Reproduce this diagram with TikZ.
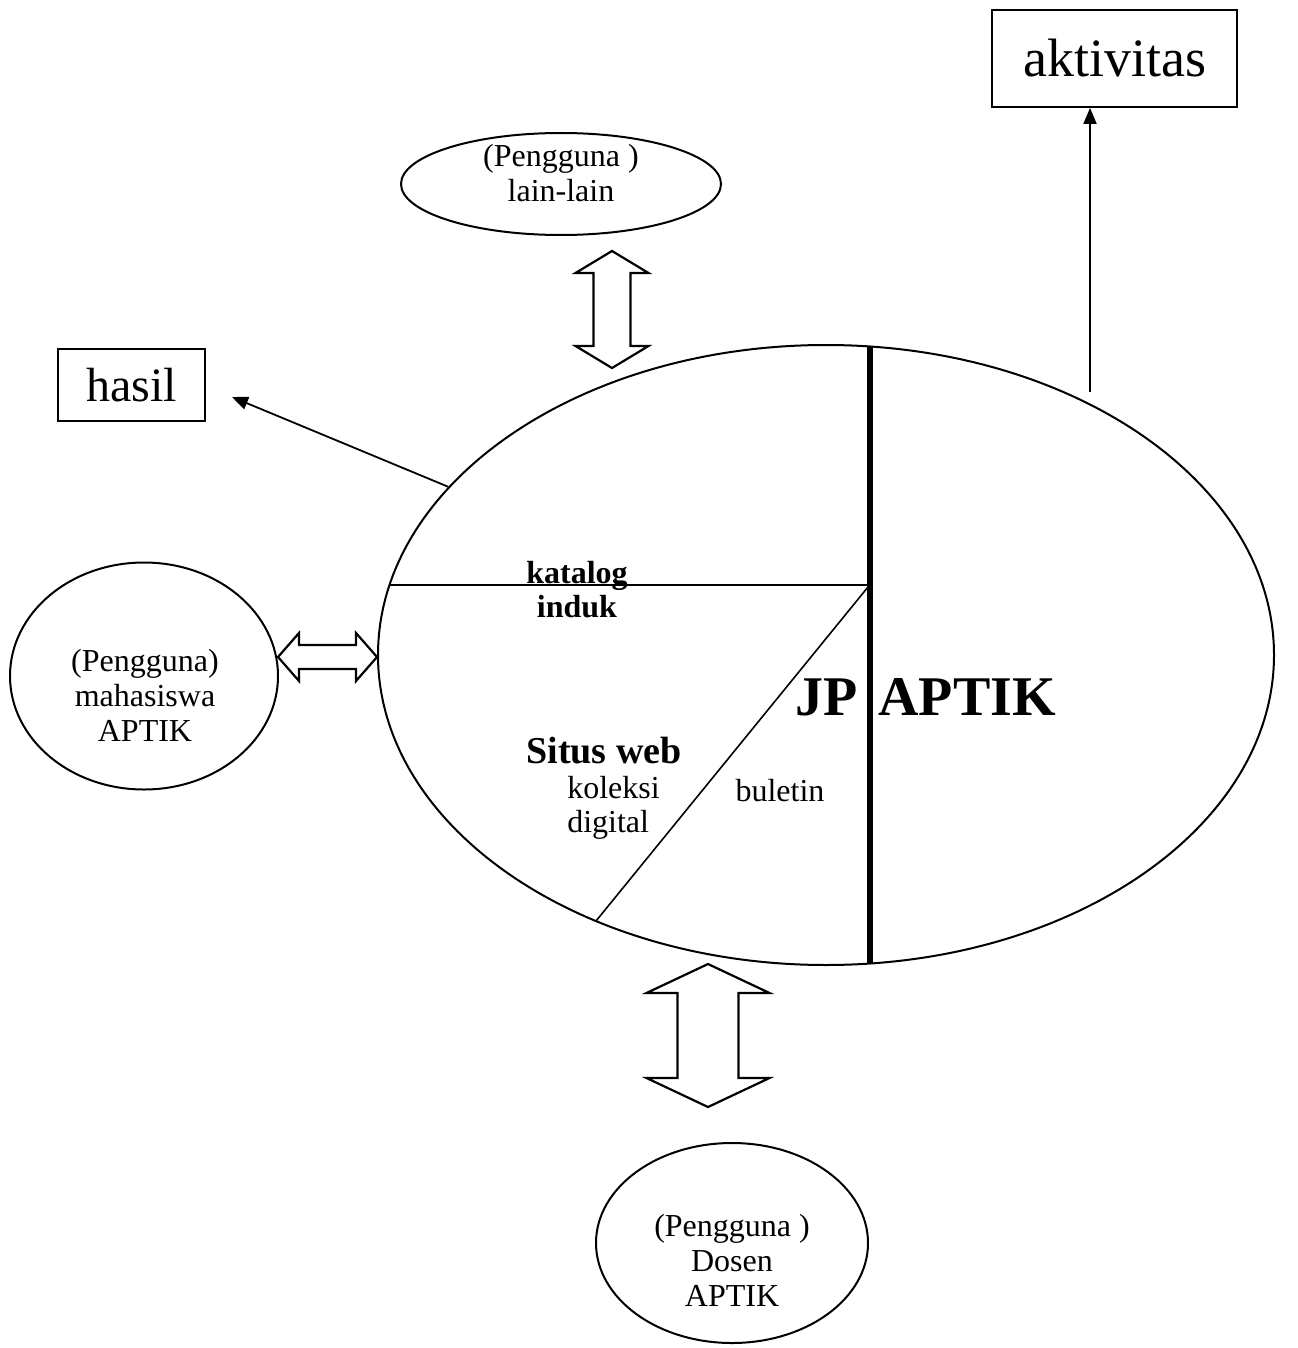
\documentclass[tikz,border=0pt]{standalone}
\usepackage{fontspec}
\setmainfont{Liberation Serif}
\usetikzlibrary{shapes.geometric,arrows.meta}
\newcommand\fs[2]{\fontsize{#1}{#2}\selectfont}
\newcommand\dblarrow[7]{%
 \begin{scope}[shift={(#1,#2)},rotate=#3]
 \draw[line width=1.1pt,line join=miter] (0,-#4) -- (#5,{-#4+#7}) -- (#6,{-#4+#7}) -- (#6,{#4-#7})
  -- (#5,{#4-#7}) -- (0,#4) -- (-#5,{#4-#7}) -- (-#6,{#4-#7}) -- (-#6,{-#4+#7}) -- (-#5,{-#4+#7}) -- cycle;
 \end{scope}}

\begin{document}
\begin{tikzpicture}[x=0.5pt,y=-0.5pt,
 oval/.style={draw,ellipse,line width=1pt,inner sep=0pt},
 boks/.style={draw,line width=0.9pt,inner sep=0pt},
 arr/.style={line width=0.9pt,-{Triangle[length=8pt,width=6.5pt]}},
 teks/.style={align=center,font=\fs{16}{17.5}}]
\useasboundingbox (0,0) rectangle (1297,1348);
\node[oval,minimum width=448pt,minimum height=310pt] (jp) at (826,655) {};
\foreach\pos/\w/\h/\nm in {(561,184)/160/51/lain,(144,676)/134/113.5/mhs,(732,1243)/136/100/dsn}
 \node[oval,minimum width=\w pt,minimum height=\h pt] (\nm) at \pos {};
\node[boks,minimum width=73.5pt,minimum height=36pt,font=\fs{24}{28}] (hasil) at (131.5,385) {hasil};
\node[boks,minimum width=122.5pt,minimum height=48.5pt,font=\fs{27}{30}] (aktiv) at (1114.5,58.5) {aktivitas};
\coordinate (h1) at (232,397);
\coordinate (a1) at (1090,392);
\draw[arr] (jp.156) -- (h1);
\draw[arr] (a1) -- (a1 |- aktiv.south);
\draw[line width=2.6pt] (870,346.5) -- (870,963.5);
\draw[line width=0.8pt] (389.6,585) -- (868,585);
\draw[line width=0.8pt] (868,587) -- (596,921);
\foreach\cx/\cy/\r/\l/\hw/\sw/\hl in {612/309.5/0/58.5/36.5/18.5/22,708/1035.5/0/71.5/61.5/30.5/29,327.5/657/90/49.5/24/12/21}
 {\dblarrow{\cx}{\cy}{\r}{\l}{\hw}{\sw}{\hl}}
\node[teks] (tlain) at (561,173) {(Pengguna )\\lain-lain};
\node[teks] (tmhs) at (145,695) {(Pengguna)\\mahasiswa\\APTIK};
\node[teks] (tdsn) at (732,1260) {(Pengguna )\\Dosen\\APTIK};
\node[align=center,font=\bfseries\fs{16}{17}] (katalog) at (577,590) {katalog\\induk};
\node[font=\bfseries\fs{19}{20}] (situs) at (604,751) {Situs web};
\node[align=left,font=\fs{16}{17}] (koleksi) at (613.5,808) {koleksi\\digital};
\node[font=\fs{16}{17}] (buletin) at (780,791) {buletin};
\node[font=\bfseries\fs{28}{30},anchor=base east,inner sep=0pt] (jpt) at (858,715) {JP};
\node[font=\bfseries\fs{28}{30},anchor=base west,inner sep=0pt] (aptik) at (878,715) {APTIK};
\end{tikzpicture}
\end{document}
